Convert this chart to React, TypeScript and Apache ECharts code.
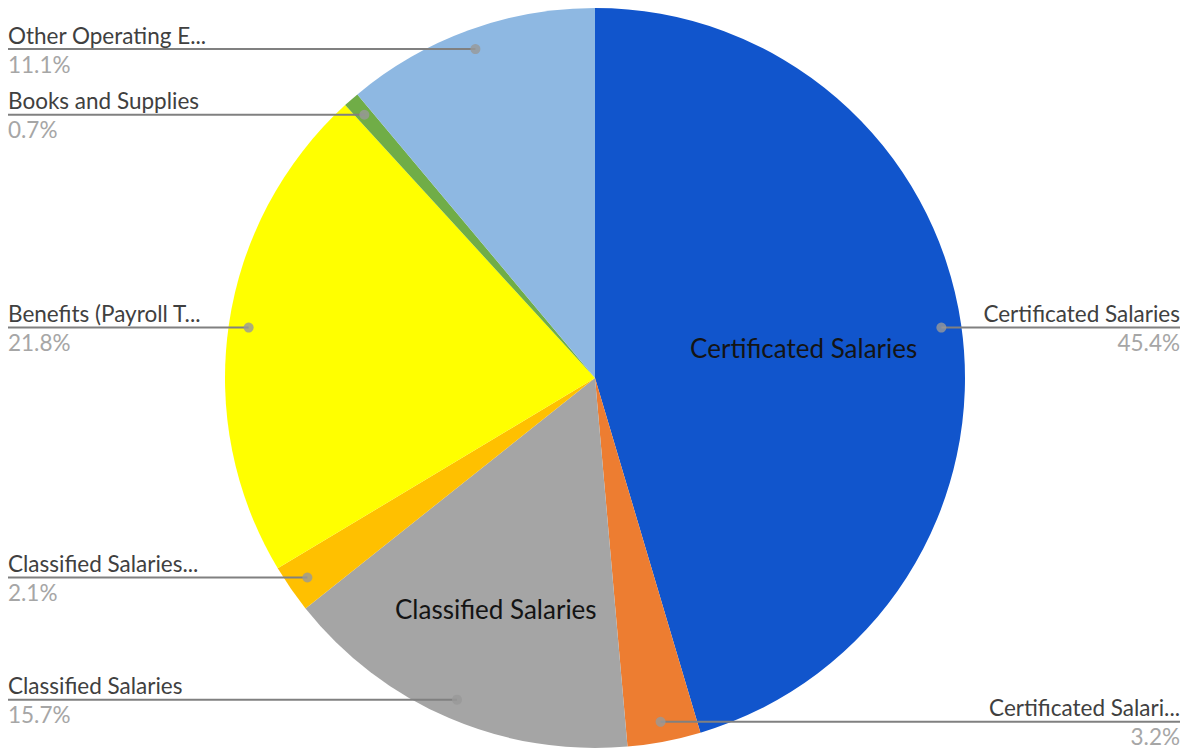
import React, { useEffect, useRef } from 'react';
import * as echarts from 'echarts';

const categories = [
  'Certificated Salaries',
  'Certificated Salari...',
  'Classified Salaries',
  'Classified Salaries...',
  'Benefits (Payroll T...',
  'Books and Supplies',
  'Other Operating E...',
];
const shares = [45.4, 3.2, 15.7, 2.1, 21.8, 0.7, 11.1];
const colors = ['#1155CC', '#ED7D31', '#A5A5A5', '#FFC000', '#FFFF00', '#70AD47', '#8EB8E2'];
const innerLabelIndices = [0, 2];

const W = 1190;
const H = 751;
const CX = 595;
const CY = 378;
const R = 370;
const DOT = 0.946;
const FONT = 'Lato, "Open Sans", sans-serif';

const total = shares.reduce((a, b) => a + b, 0);
const midPct: number[] = [];
{
  let acc = 0;
  shares.forEach((v) => {
    midPct.push(((acc + v / 2) / total) * 100);
    acc += v;
  });
}
const innerDist: Record<number, number> = { 0: 0.57, 2: 0.68 };

export default function App() {
  const ref = useRef<HTMLDivElement>(null);
  useEffect(() => {
    if (!ref.current) return;
    const chart = echarts.init(ref.current, undefined, { renderer: 'svg' });
    const base = {
      type: 'pie',
      center: [CX, CY],
      radius: [0, R],
      startAngle: 90,
      clockwise: true,
      percentPrecision: 1,
      avoidLabelOverlap: false,
      emphasis: { disabled: true },
    };
    const option: any = {
      animation: false,
      backgroundColor: '#ffffff',
      textStyle: { fontFamily: FONT },
      polar: { center: [CX, CY], radius: R },
      angleAxis: { type: 'value', min: 0, max: 100, startAngle: 90, clockwise: true, show: false },
      radiusAxis: { type: 'value', min: 0, max: 1, show: false },
      series: [
        {
          ...base,
          z: 2,
          data: categories.map((name, i) => ({
            name,
            value: shares[i],
            itemStyle: { color: colors[i] },
          })),
          label: { show: false },
          labelLine: { show: false },
        },
        {
          ...base,
          z: 4,
          silent: true,
          data: categories.map((name, i) => ({
            name,
            value: shares[i],
            itemStyle: { color: 'rgba(0,0,0,0)' },
          })),
          label: {
            show: true,
            position: 'outside',
            formatter: '{n|{b}}\n{p|{d}%}',
            rich: {
              n: { fontSize: 22.5, color: '#404040', lineHeight: 30, fontFamily: FONT },
              p: { fontSize: 22.5, color: '#A6A6A6', lineHeight: 28, fontFamily: FONT },
            },
          },
          labelLine: { show: true, lineStyle: { color: '#808080', width: 2 } },
          labelLayout: (p: any) => {
            const i = p.dataIndex;
            const th = (midPct[i] / 100) * 2 * Math.PI;
            const dx = CX + R * DOT * Math.sin(th);
            const dy = CY - R * DOT * Math.cos(th);
            const right = Math.sin(th) > 0;
            const ex = right ? W - 10 : 8;
            return {
              x: ex,
              y: dy,
              align: right ? 'right' : 'left',
              verticalAlign: 'middle',
              labelLinePoints: [
                [dx, dy],
                [(dx + ex) / 2, dy],
                [ex, dy],
              ],
            };
          },
        },
        {
          ...base,
          z: 3,
          silent: true,
          data: categories.map((name, i) => ({
            name,
            value: shares[i],
            itemStyle: { color: 'rgba(0,0,0,0)' },
            label: { show: innerLabelIndices.includes(i) },
          })),
          label: {
            position: 'inside',
            formatter: '{b}',
            fontSize: 26,
            color: '#141414',
            fontFamily: FONT,
          },
          labelLine: { show: false },
          labelLayout: (p: any) => {
            const i = p.dataIndex;
            const f = innerDist[i] ?? 0.6;
            const th = (midPct[i] / 100) * 2 * Math.PI;
            return {
              x: CX + R * f * Math.sin(th),
              y: CY - R * f * Math.cos(th),
              align: 'center',
              verticalAlign: 'middle',
            };
          },
        },
        {
          type: 'scatter',
          coordinateSystem: 'polar',
          symbol: 'circle',
          symbolSize: 10,
          z: 6,
          silent: true,
          itemStyle: { color: '#999999' },
          data: midPct.map((m) => [DOT, m]),
        },
      ],
    };
    chart.setOption(option);
    return () => chart.dispose();
  }, []);
  return (
    <div
      ref={ref}
      style={{ position: 'fixed', left: 0, top: 0, width: W, height: H, background: '#fff' }}
    />
  );
}
